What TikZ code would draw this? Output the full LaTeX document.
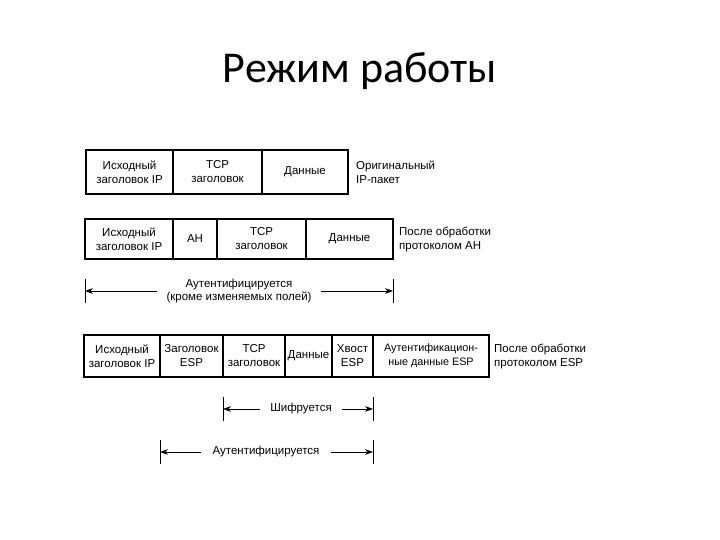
\documentclass[tikz,border=0pt]{standalone}
\usepackage{fontspec}
\setmainfont{Liberation Sans}
\newfontfamily\titlefont{Carlito}
\usetikzlibrary{arrows.meta,positioning}
\tikzset{
  cell/.style={draw,line width=1.1pt,outer sep=0pt,inner sep=1pt,align=center,
    font=\fontsize{11.5}{14}\selectfont},
  rowlabel/.style={align=left,anchor=west,inner sep=0pt,font=\fontsize{11.5}{14}\selectfont},
  spantext/.style={align=center,inner xsep=9pt,font=\fontsize{11.5}{13}\selectfont},
  span/.style={-{Stealth[length=2.8mm,width=2mm]},line width=0.8pt},
  endbar/.style={line width=1pt}
}
\begin{document}
\begin{tikzpicture}[x=1pt,y=-1pt]
\useasboundingbox (0,0) rectangle (720,540);
\node[font=\titlefont\fontsize{44}{50}\selectfont] (title) at (360,71) {Режим работы};
\node[cell,minimum height=44,minimum width=87,anchor=north west] (r1ip) at (86,150)
  {Исходный\\заголовок IP};
\node[cell,minimum height=44,minimum width=89,right=0pt of r1ip] (r1tcp) {TCP\\заголовок};
\node[cell,minimum height=44,minimum width=86,right=0pt of r1tcp] (r1data) {Данные};
\node[rowlabel,right=8pt of r1data] (r1lbl) {Оригинальный\\IP-пакет};
\node[cell,minimum height=40,minimum width=88,anchor=north west] (r2ip) at (85,219)
  {Исходный\\заголовок IP};
\node[cell,minimum height=40,minimum width=44,right=0pt of r2ip] (r2ah) {AH};
\node[cell,minimum height=40,minimum width=89,right=0pt of r2ah] (r2tcp) {TCP\\заголовок};
\node[cell,minimum height=40,minimum width=87,right=0pt of r2tcp] (r2data) {Данные};
\node[rowlabel,right=6pt of r2data] (r2lbl) {После обработки\\протоколом AH};
\node[cell,minimum height=42,minimum width=76,anchor=north west] (r3ip) at (84,335)
  {Исходный\\заголовок IP};
\node[cell,minimum height=42,minimum width=63,right=0pt of r3ip] (r3esp) {Заголовок\\ESP};
\node[cell,minimum height=42,minimum width=62,right=0pt of r3esp] (r3tcp) {TCP\\заголовок};
\node[cell,minimum height=42,minimum width=47,right=0pt of r3tcp] (r3data) {Данные};
\node[cell,minimum height=42,minimum width=41,right=0pt of r3data] (r3tail) {Хвост\\ESP};
\node[cell,minimum height=42,minimum width=116,right=0pt of r3tail,
  font=\fontsize{10.8}{14}\selectfont] (r3auth) {Аутентификацион-\\ные данные ESP};
\node[rowlabel,right=5pt of r3auth] (r3lbl) {После обработки\\протоколом ESP};
\coordinate (ahl) at (r2ip.west |- 0,291);
\coordinate (ahr) at (r2data.east |- 0,291);
\node[spantext] (ahtext) at (239,291) {Аутентифицируется\\(кроме изменяемых полей)};
\coordinate (encl) at (r3tcp.west |- 0,409);
\coordinate (encr) at (r3tail.east |- 0,409);
\node[spantext,inner xsep=10pt] (enctext) at (301,409) {Шифруется};
\coordinate (espl) at (r3esp.west |- 0,452);
\coordinate (espr) at (r3tail.east |- 0,452);
\node[spantext,inner xsep=11pt] (esptext) at (266,452) {Аутентифицируется};
\foreach \l/\r/\t in {ahl/ahr/ahtext,encl/encr/enctext,espl/espr/esptext} {
  \draw[endbar] ([yshift=-12pt]\l) -- ([yshift=12pt]\l);
  \draw[endbar] ([yshift=-12pt]\r) -- ([yshift=12pt]\r);
  \draw[span] (\t.west) -- (\l);
  \draw[span] (\t.east) -- (\r);
}
\end{tikzpicture}
\end{document}
